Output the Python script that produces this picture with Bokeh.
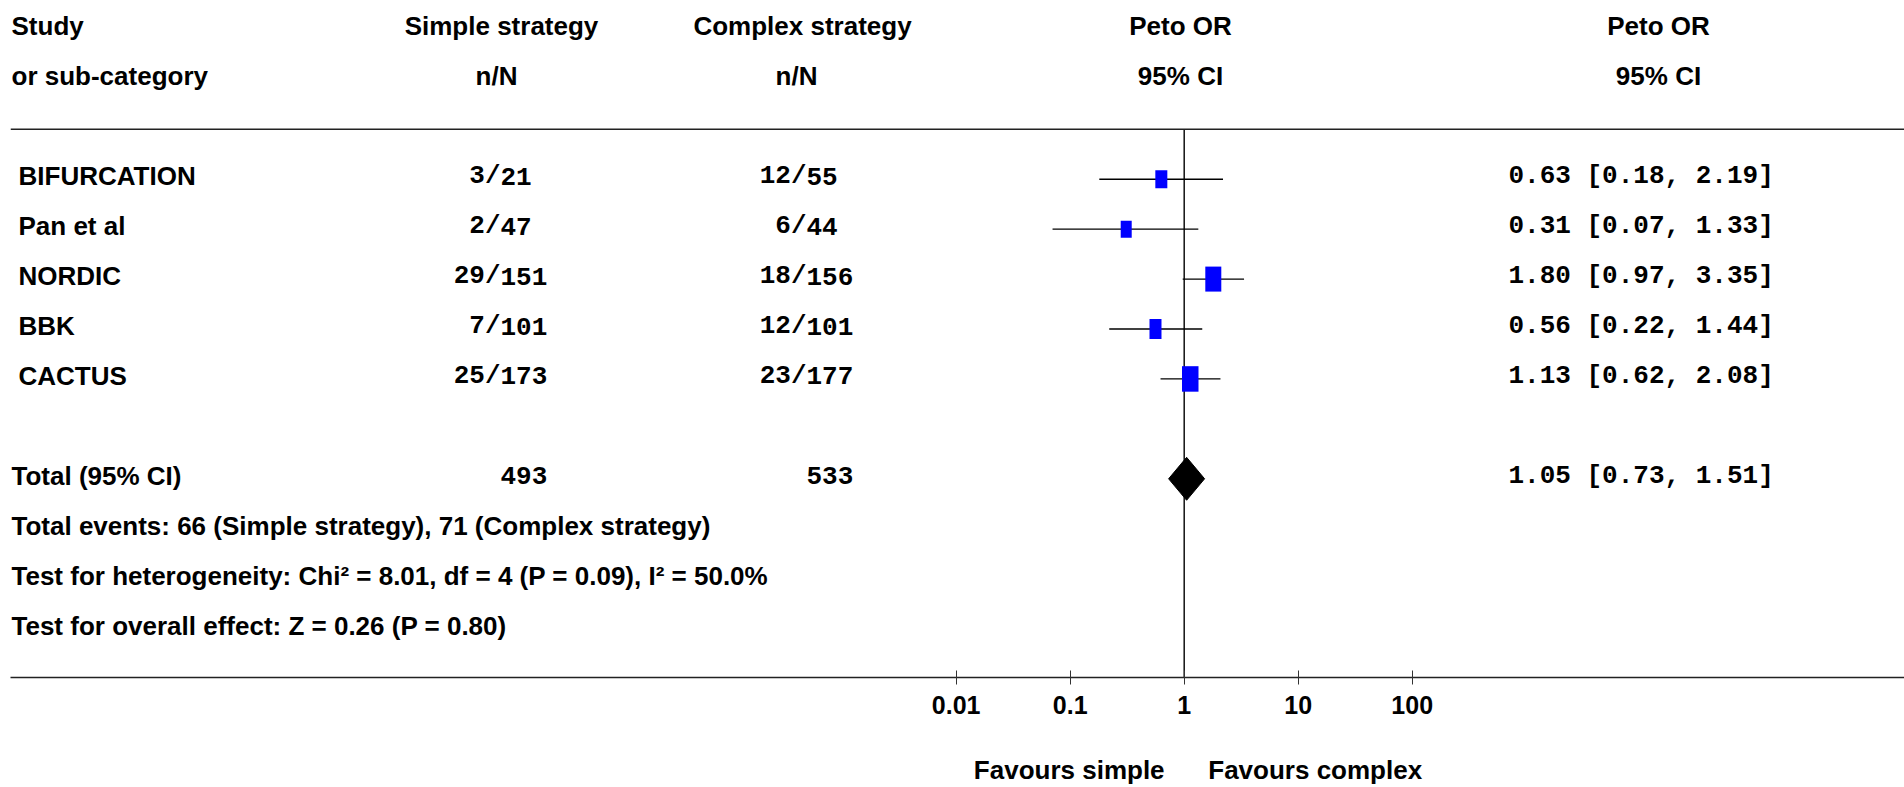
from bokeh.plotting import figure
from bokeh.models import (Range1d, LogScale, LogAxis, FixedTicker, CustomJSTickFormatter, Span)
from bokeh.core.properties import value
from bokeh.embed import file_html
from bokeh.resources import INLINE

# ---------------- data ----------------
header_top = ["Simple strategy", "Complex strategy", "Peto OR", "Peto OR"]
header_sub = ["n/N", "n/N", "95% CI", "95% CI"]
studies = ["BIFURCATION", "Pan et al", "NORDIC", "BBK", "CACTUS"]
simple_events = [3, 2, 29, 7, 25]
simple_total = [21, 47, 151, 101, 173]
complex_events = [12, 6, 18, 12, 23]
complex_total = [55, 44, 156, 101, 177]
or_est = [0.63, 0.31, 1.80, 0.56, 1.13]
or_lo = [0.18, 0.07, 0.97, 0.22, 0.62]
or_hi = [2.19, 1.33, 3.35, 1.44, 2.08]
total_simple = 493
total_complex = 533
pooled_est, pooled_lo, pooled_hi = 1.05, 0.73, 1.51
footers = [
    "Total events: 66 (Simple strategy), 71 (Complex strategy)",
    "Test for heterogeneity: Chi\u00b2 = 8.01, df = 4 (P = 0.09), I\u00b2 = 50.0%",
    "Test for overall effect: Z = 0.26 (P = 0.80)",
]
tick_values = [0.01, 0.1, 1, 10, 100]
null_value = 1
favours = ["Favours simple", "Favours complex"]

# ---------------- layout / style ----------------
W, H = 1904, 787
ROW_H = 50
TEXT0 = 26.0        # text baseline of row 0
MARK0 = 29.0        # marker centre of row 0
RULE_Y = 129
AXIS_Y = 678
NULL_X = 1183.7
DEC_PX = 114.0
LEFT = 10
SANS = "Liberation Sans"
MONO = "Liberation Mono"
FS = "26px"
BOX_H = [18, 17, 25, 20, 25.5]
BOX_W = [12, 11, 16, 12, 16.5]
BLUE = "#0000FF"
FAV_OFFSET_PX = [-115.0, 131.0]   # label centres relative to the null line


def base(r):
    return TEXT0 + ROW_H * r


def mid(r):
    return MARK0 + ROW_H * r


study_rows = [3, 4, 5, 6, 7]
total_row = 9
footer_rows = [10, 11, 12]

p = figure(width=W, height=H, output_backend="svg", toolbar_location=None,
           x_axis_type=None, y_axis_type=None, title=None,
           x_range=Range1d(LEFT, W), y_range=Range1d(AXIS_Y, 0),
           min_border_left=LEFT, min_border_right=0, min_border_top=0,
           min_border_bottom=H - AXIS_Y)
p.outline_line_color = None
p.grid.visible = False
p.background_fill_color = "white"
p.border_fill_color = "white"

lo_or = 10 ** ((LEFT - NULL_X) / DEC_PX)
hi_or = 10 ** ((W - NULL_X) / DEC_PX)
p.extra_x_ranges = {"or": Range1d(lo_or, hi_or)}
p.extra_x_scales = {"or": LogScale()}

ax = LogAxis(x_range_name="or", ticker=FixedTicker(ticks=tick_values, minor_ticks=[]),
             formatter=CustomJSTickFormatter(code="return String(tick);"))
ax.axis_line_color = "#222222"
ax.axis_line_width = 1.5
ax.major_tick_line_color = "#333333"
ax.major_tick_line_width = 1
ax.major_tick_in = 7
ax.major_tick_out = 7
ax.minor_tick_line_color = None
ax.major_label_standoff = 11
ax.major_label_text_font = SANS
ax.major_label_text_font_style = "bold"
ax.major_label_text_font_size = "25px"
ax.major_label_text_color = "black"
p.add_layout(ax, "below")

# "Favours" captions as a second, line-less axis
fav_pos = [10 ** (o / DEC_PX) for o in FAV_OFFSET_PX]
ax2 = LogAxis(x_range_name="or", ticker=FixedTicker(ticks=fav_pos, minor_ticks=[]),
              formatter=CustomJSTickFormatter(args={"labels": favours},
                                              code="return labels[index];"))
ax2.axis_line_color = None
ax2.major_tick_line_color = None
ax2.minor_tick_line_color = None
ax2.major_tick_in = 0
ax2.major_tick_out = 0
ax2.major_label_standoff = 38
ax2.major_label_text_font = SANS
ax2.major_label_text_font_style = "bold"
ax2.major_label_text_font_size = FS
ax2.major_label_text_color = "black"
p.add_layout(ax2, "below")

# rule under header
p.add_layout(Span(location=RULE_Y, dimension="width", line_color="#222222", line_width=1.6))

txt = dict(text_font=value(SANS), text_font_style="bold", text_font_size=FS,
           text_color="black", text_baseline="alphabetic")
mono = dict(text_font=value(MONO), text_font_style="bold", text_font_size=FS,
            text_color="black", text_baseline="alphabetic")

# headers
p.text(x=[LEFT + 1, LEFT + 1], y=[base(0), base(1)], text=["Study", "or sub-category"],
       text_align="left", **txt)
p.text(x=[501, 802, 1180, 1658], y=[base(0)] * 4, text=header_top, text_align="center", **txt)
p.text(x=[496, 796, 1180, 1658], y=[base(1)] * 4, text=header_sub, text_align="center", **txt)

# study names
p.text(x=[18] * len(studies), y=[base(r) for r in study_rows], text=studies,
       text_align="left", **txt)

# n/N columns aligned on the slash
SL_S, SL_C = 500, 806
ys = [base(r) for r in study_rows]
p.text(x=[SL_S] * 5, y=ys, text=[f"{n}/" for n in simple_events], text_align="right", **mono)
p.text(x=[SL_S] * 5, y=ys, text=[str(n) for n in simple_total], text_align="left", **mono)
p.text(x=[SL_C] * 5, y=ys, text=[f"{n}/" for n in complex_events], text_align="right", **mono)
p.text(x=[SL_C] * 5, y=ys, text=[str(n) for n in complex_total], text_align="left", **mono)

# OR text column
or_txt = [f"{e:.2f} [{l:.2f}, {h:.2f}]" for e, l, h in zip(or_est, or_lo, or_hi)]
p.text(x=[1508] * 5, y=ys, text=or_txt, text_align="left", **mono)

# total row
p.text(x=[LEFT + 1], y=[base(total_row)], text=["Total (95% CI)"], text_align="left", **txt)
p.text(x=[SL_S, SL_C], y=[base(total_row)] * 2, text=[str(total_simple), str(total_complex)],
       text_align="left", **mono)
p.text(x=[1508], y=[base(total_row)],
       text=[f"{pooled_est:.2f} [{pooled_lo:.2f}, {pooled_hi:.2f}]"], text_align="left", **mono)

# footers
p.text(x=[LEFT + 1] * 3, y=[base(r) for r in footer_rows], text=footers, text_align="left", **txt)

# null line
p.segment(x0=[null_value], y0=[RULE_Y], x1=[null_value], y1=[AXIS_Y], x_range_name="or",
          line_color="#111111", line_width=1.5)

# CIs and boxes
my = [mid(r) for r in study_rows]
p.segment(x0=or_lo, y0=my, x1=or_hi, y1=my, x_range_name="or", line_color="black", line_width=1.3)
p.rect(x=or_est, y=my, width=BOX_W, height=BOX_H, width_units="screen", height_units="screen",
       x_range_name="or", fill_color=BLUE, line_color=None)

# pooled diamond
yc = mid(total_row)
p.patch(x=[pooled_lo, pooled_est, pooled_hi, pooled_est], y=[yc, yc - 21.5, yc, yc + 21.5],
        x_range_name="or", fill_color="black", line_color="black", line_width=1)

open("out.html", "w").write(file_html(p, INLINE))
